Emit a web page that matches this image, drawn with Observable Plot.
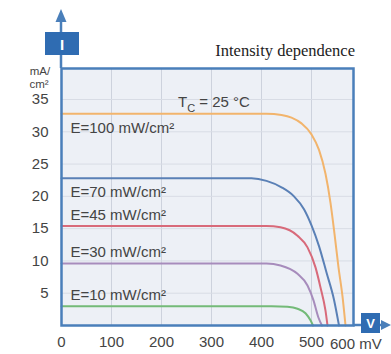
<!DOCTYPE html>
<html><head><meta charset="utf-8">
<script src="https://cdn.jsdelivr.net/npm/d3@7"></script>
<script src="https://cdn.jsdelivr.net/npm/@observablehq/plot@0.6"></script>
<style>body{margin:0;background:#fff} svg{display:block}</style>
</head><body><div id="chart"></div>
<script>
// ---- data ----
const seriesNames = ["E=100 mW/cm²", "E=70 mW/cm²", "E=45 mW/cm²", "E=30 mW/cm²", "E=10 mW/cm²"];
const seriesColors = ["#f2b46c", "#5a80b6", "#d86a7a", "#a78cbc", "#74ba78"];
const e100V = [0, 410, 440, 460, 480, 500, 515, 528, 538, 546, 554, 562, 568];
const e100I = [32.8, 32.8, 32.6, 32.2, 31.3, 29.6, 27.2, 23.5, 19.0, 14.2, 9.0, 4.5, 0];
const e70V = [0, 380, 410, 440, 465, 485, 500, 515, 530, 545, 555];
const e70I = [22.8, 22.8, 22.4, 21.4, 20.0, 18.0, 15.5, 12.3, 8.2, 4.0, 0];
const e45V = [0, 410, 438, 472, 492, 508, 518, 528, 532];
const e45I = [15.4, 15.4, 15.2, 13.9, 12.1, 9.0, 5.9, 2.3, 0];
const e30V = [0, 410, 438, 472, 492, 504, 514, 521];
const e30I = [9.6, 9.6, 9.3, 8.0, 6.2, 3.9, 1.2, 0];
const e10V = [0, 420, 452, 472, 488, 498, 503];
const e10I = [3.0, 3.0, 2.9, 2.6, 1.9, 0.8, 0];
const xTickLabels = [0, 100, 200, 300, 400, 500, 600];
const yTickLabels = [5, 10, 15, 20, 25, 30, 35];
const xUnit = "mV";
const yUnit = ["mA/", "cm²"];
const title = "Intensity dependence";
const tempLabel = ["T", "C", " = 25 °C"];

// ---- build table ----
const allV = [e100V, e70V, e45V, e30V, e10V];
const allI = [e100I, e70I, e45I, e30I, e10I];
const rows = [];
seriesNames.forEach((s, k) => allV[k].forEach((v, j) => rows.push({series: s, v, i: allI[k][j]})));
const labelRows = seriesNames.map((s, k) => ({series: s, i: allI[k][0]}));

const blue = "#4a7fba", boxBlue = "#2f6cb2", txt = "#444";
const W = 391, H = 354;
const plot = Plot.plot({
  width: W, height: H,
  marginLeft: 61, marginTop: 68, marginRight: 38, marginBottom: 29,
  style: {fontFamily: "'Liberation Sans', Arial, sans-serif", fontSize: "15px", color: txt, background: "transparent"},
  x: {domain: [0, 584], ticks: xTickLabels.filter(d => d <= 584), tickSize: 0, tickPadding: 11, label: null},
  y: {domain: [0, 39.8], ticks: yTickLabels, tickSize: 0, tickPadding: 13, label: null},
  color: {domain: seriesNames, range: seriesColors},
  marks: [
    Plot.frame({fill: "#edf0f6"}),
    Plot.gridX(xTickLabels.filter(d => d > 0 && d <= 584), {stroke: "#cdd2dd", strokeOpacity: 1}),
    Plot.gridY(yTickLabels, {stroke: "#d8dce5", strokeOpacity: 1}),
    Plot.line(rows, {x: "v", y: "i", z: "series", stroke: "series", strokeWidth: 2, curve: "monotone-x"}),
    Plot.text(labelRows.slice(0, 2), {x: 0, y: "i", text: "series", dx: 9, dy: 14, textAnchor: "start", fill: txt, fontSize: 15}),
    Plot.text(labelRows.slice(2), {x: 0, y: "i", text: "series", dx: 9, dy: -11, textAnchor: "start", fill: txt, fontSize: 15}),
    Plot.frame({stroke: blue, strokeWidth: 2.5})
  ]
});
document.getElementById("chart").appendChild(plot);

// ---- decorations ----
const svg = d3.select(plot);
const xs = plot.scale("x"), ys = plot.scale("y");
const x0 = xs.apply(0), y0 = ys.apply(0), xR = W - 38, yT = 68;
const g = svg.append("g").attr("text-anchor", "start");
// y axis arrow
g.append("line").attr("x1", x0).attr("x2", x0).attr("y1", yT).attr("y2", 20).attr("stroke", blue).attr("stroke-width", 2.5);
g.append("polygon").attr("points", `${x0},9 ${x0 - 5.5},22 ${x0 + 5.5},22`).attr("fill", blue);
g.append("rect").attr("x", x0 - 16).attr("y", 32).attr("width", 34).attr("height", 23).attr("fill", boxBlue);
g.append("text").attr("x", x0 + 1).attr("y", 44).attr("text-anchor", "middle").attr("dominant-baseline", "central")
  .attr("fill", "#fff").attr("font-weight", "bold").attr("font-size", 15).text("I");
// x axis arrow
g.append("line").attr("x1", xR).attr("x2", 383).attr("y1", y0).attr("y2", y0).attr("stroke", blue).attr("stroke-width", 2.5);
g.append("polygon").attr("points", `391,${y0} 381,${y0 - 5} 381,${y0 + 5}`).attr("fill", blue);
g.append("rect").attr("x", 361).attr("y", y0 - 12).attr("width", 19).attr("height", 20).attr("fill", boxBlue);
g.append("text").attr("x", 370.5).attr("y", y0 - 2).attr("text-anchor", "middle").attr("dominant-baseline", "central")
  .attr("fill", "#fff").attr("font-weight", "bold").attr("font-size", 13).text("V");
// 600 mV label
g.append("text").attr("x", 330).attr("y", y0 + 18).attr("text-anchor", "start").attr("dominant-baseline", "central")
  .attr("fill", txt).attr("font-size", 15).text(xTickLabels[6] + " " + xUnit);
// y unit
g.append("text").attr("x", 40).attr("y", 75).attr("text-anchor", "middle").attr("fill", txt).attr("font-size", 11.5).text(yUnit[0]);
g.append("text").attr("x", 39).attr("y", 88).attr("text-anchor", "middle").attr("fill", txt).attr("font-size", 11.5).text(yUnit[1]);
// title
g.append("text").attr("x", 355).attr("y", 56).attr("text-anchor", "end").attr("fill", "#222")
  .attr("font-family", "'Liberation Serif', 'DejaVu Serif', serif").attr("font-size", 16.5).text(title);
// temperature label
const t = g.append("text").attr("x", 178).attr("y", 107).attr("text-anchor", "start").attr("fill", txt).attr("font-size", 15);
t.append("tspan").text(tempLabel[0]);
t.append("tspan").attr("dy", 5).attr("font-size", 11).text(tempLabel[1]);
t.append("tspan").attr("dy", -5).text(tempLabel[2]);
</script>
</body></html>
